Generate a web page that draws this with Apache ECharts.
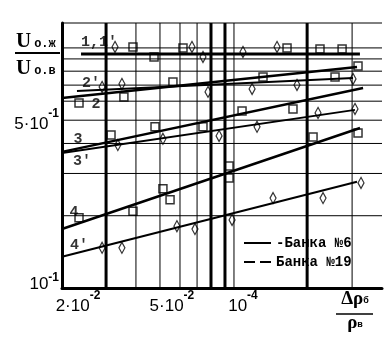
<!DOCTYPE html>
<html><head><meta charset="utf-8">
<script src="https://cdn.jsdelivr.net/npm/echarts@6/dist/echarts.min.js"></script>
<style>html,body{margin:0;padding:0;background:#fff}#c{width:392px;height:337px}</style>
</head><body><div id="c"></div>
<script>
// ---- axes ----
const xRange = [0.01711, 0.3882];
const yRange = [0.1, 1.27];
const xTickValues = [0.02, 0.05, 0.1];
const xTickMantissa = ['2·10', '5·10', '10'];
const xTickExp = ['-2', '-2', '-4'];
const yTickValues = [0.1, 0.5];
const yTickMantissa = ['10', '5·10'];
const yTickExp = ['-1', '-1'];
const xGrid = [0.0263, 0.0352, 0.0445, 0.0541, 0.0639, 0.0732, 0.0839, 0.0916, 0.187, 0.290];
const xGridThick = [true, false, false, false, false, true, true, false, true, false];
const yGrid = [0.2, 0.3, 0.4, 0.5, 0.6, 0.7, 0.8, 0.9, 1.0];

// ---- measured points: Банка №6 (squares) ----
const sq1 = [[0.0342,1.01],[0.0420,0.917],[0.0557,1.0],[0.1537,1.0],[0.212,0.99],[0.263,0.99]];
const sq2 = [[0.0202,0.590],[0.0313,0.625],[0.0505,0.722],[0.1216,0.757],[0.2455,0.757],[0.3072,0.841]];
const sq3 = [[0.0276,0.434],[0.0424,0.469],[0.0677,0.469],[0.0991,0.546],[0.1629,0.557]];
const sq4 = [[0.0202,0.196],[0.0342,0.209],[0.0458,0.259],[0.0491,0.233],[0.0873,0.322],[0.0873,0.287],[0.1981,0.426],[0.3072,0.442]];
// ---- measured points: Банка №19 (diamonds) ----
const dm1 = [[0.0287,1.01],[0.0608,1.01],[0.0677,0.917],[0.100,0.962],[0.1394,1.01]];
const dm2 = [[0.0253,0.688],[0.0307,0.708],[0.0711,0.656],[0.1093,0.675],[0.1694,0.701],[0.2926,0.743]];
const dm3 = [[0.0295,0.394],[0.0458,0.418],[0.0792,0.430],[0.1147,0.469],[0.208,0.536],[0.2983,0.557]];
const dm4 = [[0.0253,0.147],[0.0307,0.147],[0.0525,0.181],[0.0626,0.176],[0.0899,0.192],[0.1341,0.237],[0.2184,0.237],[0.3163,0.274]];

// ---- fitted lines ----
const fit1 = [[0.0206,0.944],[0.313,0.944]];
const fit2 = [[0.01711,0.619],[0.3042,0.833]];
const fit2p = [[0.0198,0.662],[0.2926,0.750]];
const fit3 = [[0.01711,0.369],[0.3227,0.681]];
const fit3p = [[0.01711,0.365],[0.2983,0.552]];
const fit4 = [[0.01711,0.176],[0.3132,0.464]];
const fit4p = [[0.01711,0.135],[0.3042,0.277]];
const curveLabels = ["1,1'", "2", "2'", "3", "3'", "4", "4'"];
const legendNames = ['Банка №6', 'Банка №19'];

// ---- styling (not data) ----
const fits = [fit1, fit2, fit2p, fit3, fit3p, fit4, fit4p];
const fitOwner = [0, 0, 1, 0, 1, 0, 1];
const fitWidth = [3, 2.5, 2, 2.5, 2, 2.5, 2];
const labelOffsets = [[18,-12],[34,6],[14,-8],[16,-13],[20,8],[12,-17],[17,-11]];

const BLK = '#000';
const tickRich = {
  m: {fontFamily: 'Liberation Sans', fontSize: 17, color: BLK, padding: [8, 0, 0, 0]},
  m0: {fontFamily: 'Liberation Sans', fontSize: 17, color: BLK, padding: [4, 0, 12, 0]},
  e: {fontFamily: 'Liberation Sans', fontWeight: 'bold', fontSize: 12, color: BLK, verticalAlign: 'top'}
};
function idxOf(arr, v) {
  let best = 0, bd = Infinity;
  arr.forEach((t, i) => { const d = Math.abs(Math.log(t) - Math.log(v)); if (d < bd) { bd = d; best = i; } });
  return best;
}

const series = [];
// grid lines drawn through the axes
xGrid.forEach((v, i) => series.push({
  type: 'line', name: 'grid', data: [[v, yRange[0]], [v, yRange[1]]], symbol: 'none', silent: true, z: 1, clip: false,
  color: BLK, lineStyle: {color: BLK, width: xGridThick[i] ? 3 : 1}
}));
yGrid.concat([yRange[1]]).forEach(v => series.push({
  type: 'line', name: 'grid', data: [[xRange[0], v], [xRange[1], v]], symbol: 'none', silent: true, z: 1, clip: false,
  color: BLK, lineStyle: {color: BLK, width: 1}
}));
fits.forEach((f, i) => {
  series.push({
    type: 'line', name: legendNames[fitOwner[i]], data: f, symbol: 'none', z: 3, color: BLK,
    lineStyle: {color: BLK, width: fitWidth[i], type: 'solid'}, silent: true
  });
});
series.push({
  type: 'scatter', name: 'sq', data: [].concat(sq1, sq2, sq3, sq4), symbol: 'rect', symbolSize: 8, z: 4,
  itemStyle: {color: 'rgba(255,255,255,0)', borderColor: BLK, borderWidth: 1.5}, silent: true
});
series.push({
  type: 'scatter', name: 'dm', data: [].concat(dm1, dm2, dm3, dm4), symbol: 'diamond', symbolSize: [6, 11], z: 4,
  itemStyle: {color: 'rgba(255,255,255,0)', borderColor: BLK, borderWidth: 1.3}, silent: true
});
series.push({
  type: 'scatter', name: 'labels', symbolSize: 1, z: 5, silent: true,
  itemStyle: {color: 'rgba(0,0,0,0)'},
  data: fits.map((f, i) => ({
    value: f[0],
    label: {show: true, position: 'inside', formatter: curveLabels[i], offset: labelOffsets[i],
      fontFamily: 'Liberation Mono', fontWeight: 'bold', fontSize: 15, color: BLK}
  }))
});

const chart = echarts.init(document.getElementById('c'), null, {renderer: 'canvas'});
chart.setOption({
  animation: false,
  backgroundColor: '#fff',
  grid: {left: 62, right: 10, top: 23, bottom: 49, containLabel: false, outerBoundsMode: 'none'},
  xAxis: {
    type: 'log', logBase: 10, min: xRange[0], max: xRange[1],
    axisLine: {show: true, onZero: false, lineStyle: {color: BLK, width: 3}},
    axisTick: {show: false}, splitLine: {show: false}, minorSplitLine: {show: false},
    axisLabel: {
      customValues: xTickValues, margin: 2, color: BLK, hideOverlap: false, showMinLabel: true, showMaxLabel: true,
      formatter: v => { const i = idxOf(xTickValues, v); return '{m|' + xTickMantissa[i] + '}{e|' + xTickExp[i] + '}'; },
      rich: tickRich
    }
  },
  yAxis: {
    type: 'log', logBase: 10, min: yRange[0], max: yRange[1],
    axisLine: {show: true, onZero: false, lineStyle: {color: BLK, width: 3}},
    axisTick: {show: false}, splitLine: {show: false}, minorSplitLine: {show: false},
    axisLabel: {
      customValues: yTickValues, margin: 3, color: BLK, hideOverlap: false, showMinLabel: true, showMaxLabel: true,
      formatter: v => { const i = idxOf(yTickValues, v); return '{' + (i === 0 ? 'm0' : 'm') + '|' + yTickMantissa[i] + '}{e|' + yTickExp[i] + '}'; },
      rich: tickRich
    }
  },
  legend: {
    orient: 'vertical', left: 239, top: 231, itemWidth: 27, itemHeight: 2.5, itemGap: 5,
    selectedMode: false,
    textStyle: {fontFamily: 'Liberation Mono', fontWeight: 'bold', fontSize: 14, color: BLK, lineHeight: 14},
    formatter: n => n === legendNames[0] ? '-' + n : n,
    data: [
      {name: legendNames[0], icon: 'path://M0,0h27v2h-27z', itemStyle: {color: BLK, borderWidth: 0}},
      {name: legendNames[1], icon: 'path://M0,0h11v2h-11z M16,0h11v2h-11z', itemStyle: {color: BLK, borderWidth: 0}}
    ]
  },
  graphic: [
    {type: 'text', x: 16, y: 31, style: {text: '{u|U}{s|о.ж}', rich: {
      u: {fontFamily: 'Liberation Serif', fontWeight: 'bold', fontSize: 21, fill: BLK, verticalAlign: 'bottom'},
      s: {fontFamily: 'Liberation Mono', fontWeight: 'bold', fontSize: 12, fill: BLK, verticalAlign: 'bottom', padding: [0, 0, 2, 3]}}}},
    {type: 'line', shape: {x1: 15, y1: 53, x2: 60, y2: 53}, style: {stroke: BLK, lineWidth: 2}},
    {type: 'text', x: 16, y: 58, style: {text: '{u|U}{s|о.в}', rich: {
      u: {fontFamily: 'Liberation Serif', fontWeight: 'bold', fontSize: 21, fill: BLK, verticalAlign: 'bottom'},
      s: {fontFamily: 'Liberation Mono', fontWeight: 'bold', fontSize: 12, fill: BLK, verticalAlign: 'bottom', padding: [0, 0, 2, 3]}}}},
    {type: 'text', x: 355, y: 290, style: {text: '{d|Δρ}{s|б}', align: 'center', verticalAlign: 'top', rich: {
      d: {fontFamily: 'Liberation Serif', fontWeight: 'bold', fontSize: 19, fill: BLK, verticalAlign: 'bottom'},
      s: {fontFamily: 'Liberation Sans', fontWeight: 'bold', fontSize: 9, fill: BLK, verticalAlign: 'bottom', padding: [0, 0, 4, 0]}}}},
    {type: 'line', shape: {x1: 336, y1: 314, x2: 373, y2: 314}, style: {stroke: BLK, lineWidth: 1.5}},
    {type: 'text', x: 355, y: 314, style: {text: '{d|ρ}{s|в}', align: 'center', verticalAlign: 'top', rich: {
      d: {fontFamily: 'Liberation Serif', fontWeight: 'bold', fontSize: 19, fill: BLK, verticalAlign: 'bottom'},
      s: {fontFamily: 'Liberation Sans', fontWeight: 'bold', fontSize: 9, fill: BLK, verticalAlign: 'bottom', padding: [0, 0, 4, 0]}}}}
  ],
  series: series
});
</script></body></html>
